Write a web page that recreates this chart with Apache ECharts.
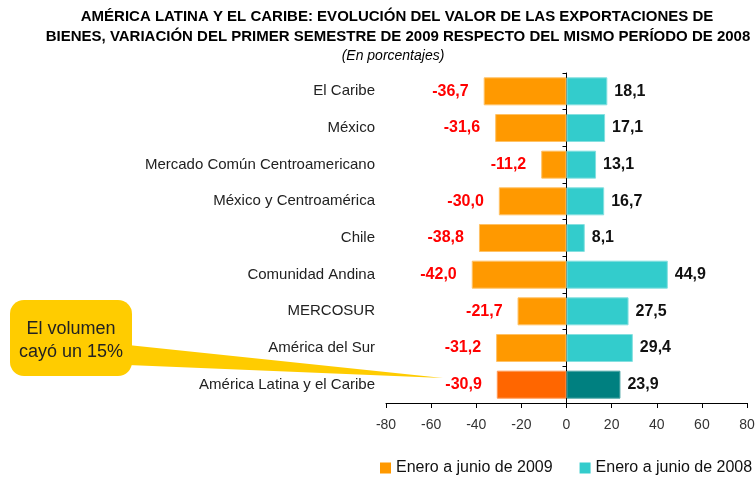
<!DOCTYPE html>
<html lang="es">
<head>
  <meta charset="UTF-8">
  <title>Exportaciones América Latina</title>
  <script src="https://cdn.jsdelivr.net/npm/echarts@6/dist/echarts.min.js"></script>
  <style>
    html, body { margin: 0; padding: 0; background: #fff; }
    #chart { width: 756px; height: 477px; }
  </style>
</head>
<body>
<div id="chart"></div>
<script>
  // datos
  const categories = [
    'El Caribe', 'México', 'Mercado Común Centroamericano', 'México y Centroamérica',
    'Chile', 'Comunidad Andina', 'MERCOSUR', 'América del Sur', 'América Latina y el Caribe'
  ];
  const values2009 = [-36.7, -31.6, -11.2, -30.0, -38.8, -42.0, -21.7, -31.2, -30.9];
  const values2008 = [18.1, 17.1, 13.1, 16.7, 8.1, 44.9, 27.5, 29.4, 23.9];
  const seriesNames = ['Enero a junio de 2009', 'Enero a junio de 2008'];
  const xTicks = { min: -80, max: 80, step: 20 };

  const font = 'Liberation Sans, Arial, sans-serif';
  const fmt = v => v.toFixed(1).replace('.', ',');
  const last = categories.length - 1;

  const chart = echarts.init(document.getElementById('chart'));

  const option = {
    animation: false,
    textStyle: { fontFamily: font },
    grid: { left: 386, right: 9, top: 73, bottom: 74, containLabel: false, outerBoundsMode: 'none' },
    legend: {
      left: 375, top: 455, width: 420,
      itemWidth: 11, itemHeight: 11, itemGap: 27,
      icon: 'rect',
      itemStyle: { borderWidth: 0 },
      textStyle: { fontSize: 16, color: '#111', fontFamily: font },
      data: seriesNames
    },
    xAxis: {
      type: 'value',
      min: xTicks.min, max: xTicks.max, interval: xTicks.step,
      axisLine: { show: true, onZero: false, lineStyle: { color: '#000' } },
      axisTick: { show: true, length: 5, lineStyle: { color: '#000' } },
      axisLabel: { fontSize: 14, color: '#333', margin: 15 },
      splitLine: { show: false }
    },
    yAxis: {
      type: 'category',
      data: categories,
      inverse: true,
      // línea del eje en el cero, etiquetas junto al borde izquierdo
      axisLine: { show: true, onZero: true, lineStyle: { color: '#000' } },
      axisTick: { show: true, length: 4, lineStyle: { color: '#000' } },
      axisLabel: { fontSize: 15, color: '#222', margin: 11 }
    },
    series: [
      {
        name: seriesNames[0],
        type: 'bar',
        barWidth: 28,
        barGap: '-100%',
        z: 1,
        itemStyle: { color: '#FF9900', borderColor: '#FFC266', borderWidth: 1 },
        label: {
          show: true, position: 'left', distance: 15,
          color: '#FF0000', fontWeight: 'bold', fontSize: 16,
          formatter: p => fmt(p.value)
        },
        data: values2009.map((v, i) => i === last
          ? { value: v, itemStyle: { color: '#FF6600', borderColor: '#FF9955' } }
          : v)
      },
      {
        name: seriesNames[1],
        type: 'bar',
        barWidth: 28,
        z: 1,
        itemStyle: { color: '#33CCCC', borderColor: '#85E0E0', borderWidth: 1 },
        label: {
          show: true, position: 'right', distance: 7,
          color: '#111', fontWeight: 'bold', fontSize: 16,
          formatter: p => fmt(p.value)
        },
        data: values2008.map((v, i) => i === last
          ? { value: v, itemStyle: { color: '#008080', borderColor: '#4DA6A6' } }
          : v)
      }
    ],
    graphic: [
      {
        type: 'text', x: 397, y: 17,
        style: {
          text: 'AMÉRICA LATINA Y EL CARIBE: EVOLUCIÓN DEL VALOR DE LAS EXPORTACIONES DE',
          font: 'bold 15px "Liberation Sans Narrow", "Arial Narrow", "Liberation Sans", sans-serif',
          fill: '#000', align: 'center', verticalAlign: 'middle'
        }
      },
      {
        type: 'text', x: 398, y: 37,
        style: {
          text: 'BIENES, VARIACIÓN DEL PRIMER SEMESTRE DE 2009 RESPECTO DEL MISMO PERÍODO DE 2008',
          font: 'bold 15px "Liberation Sans Narrow", "Arial Narrow", "Liberation Sans", sans-serif',
          fill: '#000', align: 'center', verticalAlign: 'middle'
        }
      },
      {
        type: 'text', x: 393, y: 56,
        style: {
          text: '(En porcentajes)',
          font: 'italic 14px "Liberation Sans Narrow", "Arial Narrow", "Liberation Sans", sans-serif',
          fill: '#000', align: 'center', verticalAlign: 'middle'
        }
      },
      // globo de llamada
      {
        type: 'polygon',
        shape: { points: [[128, 345], [128, 365], [443, 378]] },
        style: { fill: '#FFCC00' }
      },
      {
        type: 'rect',
        shape: { x: 10, y: 300, width: 122, height: 76, r: 14 },
        style: { fill: '#FFCC00' }
      },
      {
        type: 'text', x: 71, y: 341,
        style: {
          text: 'El volumen\ncayó un 15%',
          font: '18px "Liberation Sans", Arial, sans-serif',
          lineHeight: 23,
          fill: '#222', align: 'center', verticalAlign: 'middle'
        }
      }
    ]
  };

  chart.setOption(option);
</script>
</body>
</html>
